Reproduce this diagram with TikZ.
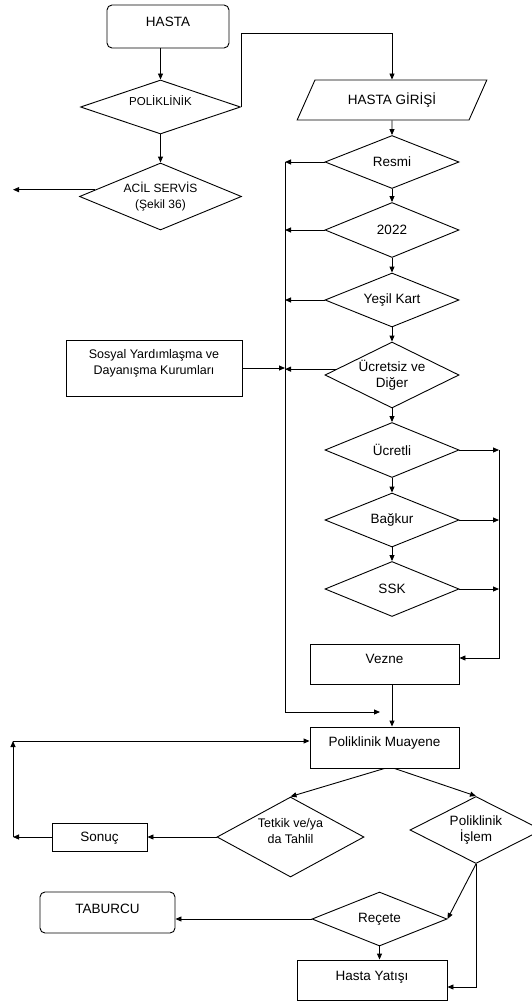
\documentclass[tikz,border=0pt]{standalone}
\usepackage{fontspec}
\setmainfont{Liberation Sans}
\usetikzlibrary{arrows.meta,shapes.geometric}
\newcommand\fsz[1]{\fontsize{#1}{16}\selectfont}
\tikzset{
  base/.style={draw, line width=0.9pt, inner sep=0pt, font=\fsz{13.5}},
  box/.style={base, rectangle},
  rbox/.style={base, rectangle, rounded corners=5pt},
  dia/.style={base, diamond, align=center},
  arr/.style={line width=0.9pt, -{Triangle[length=6pt,width=5pt]}},
  ln/.style={line width=0.9pt}
}
\begin{document}
\begin{tikzpicture}[x=1pt,y=-1pt]
\useasboundingbox (0,0) rectangle (531,1006);
% left column
\node[rbox, minimum width=122pt, text height=22pt, text depth=21pt] (hasta) at (168,26.5) {HASTA};
\node[dia, minimum width=160pt, minimum height=54pt, aspect=2.9, font=\fsz{11.5}, text height=8pt, text depth=10pt] (polik) at (160.5,107) {POLİKLİNİK};
\node[dia, minimum width=162pt, minimum height=67pt, aspect=2.4, font=\fsz{12}] (acil) at (160.5,196.5) {ACİL SERVİS\\(Şekil 36)};
% main column
\node[base, trapezium, trapezium left angle=55, trapezium right angle=125, trapezium stretches=true, minimum width=190pt, minimum height=40pt] (giris) at (392,100) {HASTA GİRİŞİ};
\node[dia, minimum width=134pt, minimum height=53pt, aspect=2.5] (resmi) at (392,162) {Resmi};
\node[dia, minimum width=134pt, minimum height=55pt, aspect=2.5] (y22) at (392,230) {2022};
\node[dia, minimum width=134pt, minimum height=54pt, aspect=2.5] (yesil) at (392,300) {Yeşil Kart};
\node[dia, minimum width=134pt, minimum height=66pt, aspect=2.0] (ucretsiz) at (392,375) {Ücretsiz ve\\Diğer};
\node[dia, minimum width=134pt, minimum height=55pt, aspect=2.5] (ucretli) at (392,450) {Ücretli};
\node[dia, minimum width=134pt, minimum height=54pt, aspect=2.5] (bagkur) at (392,520) {Bağkur};
\node[dia, minimum width=134pt, minimum height=55pt, aspect=2.5] (ssk) at (392,589) {SSK};
\node[box, minimum width=176pt, text height=18.5pt, text depth=37.5pt, font=\fsz{12.5}] (sosyal) at (154,368) {\begin{tabular}[t]{@{}c@{}}Sosyal Yardımlaşma ve\\Dayanışma Kurumları\end{tabular}};
\node[box, minimum width=149pt, text height=19pt, text depth=21pt] (vezne) at (384.5,664) {Vezne};
\node[box, minimum width=149pt, text height=19pt, text depth=22pt] (muayene) at (384.5,747.5) {Poliklinik Muayene};
% bottom part
\node[dia, minimum width=147pt, minimum height=80pt, aspect=1.84, font=\fsz{12.5}] (tetkik) at (290.5,837) {Tetkik ve/ya\\da Tahlil\\[-4pt]\mbox{}};
\node[dia, minimum width=132pt, minimum height=67pt, aspect=1.97] (islem) at (476,830) {Poliklinik\\İşlem};
\node[dia, minimum width=135pt, minimum height=54pt, aspect=2.5] (recete) at (379.5,919) {Reçete};
\node[box, minimum width=95pt, text height=18pt, text depth=10pt] (sonuc) at (99.5,837) {Sonuç};
\node[rbox, minimum width=135pt, text height=21pt, text depth=20pt] (taburcu) at (107.5,912.5) {TABURCU};
\node[box, minimum width=150pt, text height=20pt, text depth=20pt] (yatis) at (372,980) {Hasta Yatışı};
% helper coordinates
\coordinate (ctop) at (0,33);
\coordinate (acilout) at (13,0);
\coordinate (lbus) at (285,0);
\coordinate (rbus) at (499,0);
\coordinate (vezy) at (0,658);
\coordinate (lbusend) at (380,712);
\coordinate (lleft) at (13,0);
\coordinate (ltop) at (13,741);
\coordinate (ybot) at (0,987);
% connectors
\draw[arr] (hasta.south -| polik.north) -- (polik.north);
\draw[arr] (polik.east) -- (polik.east |- ctop) -| (giris.north);
\draw[arr] (polik.south) -- (acil.north);
\draw[arr] (acil.174) -- (acil.174 -| acilout);
\draw[arr] (giris.south) -- (resmi.north);
\draw[arr] (resmi.south) -- (y22.north);
\draw[arr] (y22.south) -- (yesil.north);
\draw[arr] (yesil.south) -- (ucretsiz.north);
\draw[arr] (ucretsiz.south) -- (ucretli.north);
\draw[arr] (ucretli.south) -- (bagkur.north);
\draw[arr] (bagkur.south) -- (ssk.north);
% left bus
\draw[arr] (resmi.west) -- (resmi.west -| lbus);
\draw[arr] (y22.west) -- (y22.west -| lbus);
\draw[arr] (yesil.west) -- (yesil.west -| lbus);
\draw[arr] (ucretsiz.174) -- (ucretsiz.174 -| lbus);
\draw[arr] (sosyal.east) -- (sosyal.east -| lbus);
\draw[arr] (resmi.west -| lbus) |- (lbusend);
% right bus
\draw[arr] (ucretli.east) -- (ucretli.east -| rbus);
\draw[arr] (bagkur.east) -- (bagkur.east -| rbus);
\draw[arr] (ssk.east) -- (ssk.east -| rbus);
\draw[arr] (ucretli.east -| rbus) |- (vezy -| vezne.east);
\draw[arr] (vezne.south -| resmi.south) -- (muayene.north -| resmi.south);
% lower part
\draw[arr] (muayene.south) -- (tetkik.north);
\draw[arr] ([xshift=10pt]muayene.south) -- (islem.north);
\draw[arr] (tetkik.west) -- (sonuc.east);
\draw[arr] (sonuc.west) -- (sonuc.west -| lleft);
\draw[arr] (sonuc.west -| lleft) -- (ltop);
\draw[arr] (ltop) -- (ltop -| muayene.west);
\draw[arr] (islem.south) -- (recete.east);
\draw[arr] (islem.south) |- (ybot -| yatis.east);
\draw[arr] (recete.west) -- (recete.west -| taburcu.east);
\draw[arr] (recete.south) -- (recete.south |- yatis.north);
\end{tikzpicture}
\end{document}
